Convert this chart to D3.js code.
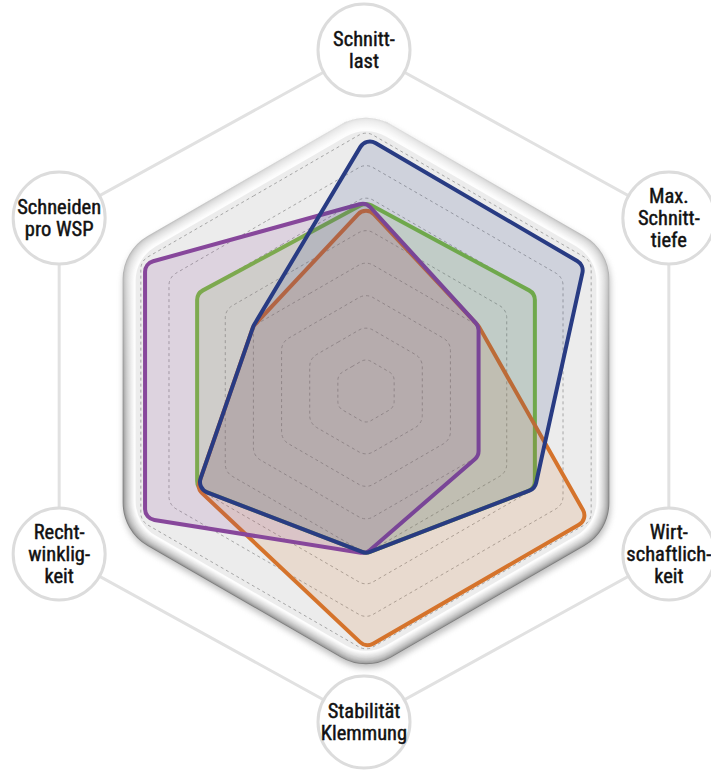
<!DOCTYPE html>
<html>
<head>
<meta charset="utf-8">
<script src="https://cdn.jsdelivr.net/npm/d3@7/dist/d3.min.js"></script>
<style>
  html, body { margin: 0; padding: 0; background: #ffffff; }
  svg { display: block; }
  .lbl { font-family: "Liberation Sans Narrow", "Roboto Condensed", "Arial Narrow", "Liberation Sans", sans-serif; font-weight: normal; font-size: 20.5px; fill: #111; stroke: #111; stroke-width: 0.45px; }
</style>
</head>
<body>
<svg id="chart" width="711" height="776"></svg>
<script>
// ---- data ----
const axisLabels = [
  ["Schnitt-", "last"],
  ["Max.", "Schnitt-", "tiefe"],
  ["Wirt-", "schaftlich-", "keit"],
  ["Stabilität", "Klemmung"],
  ["Recht-", "winklig-", "keit"],
  ["Schneiden", "pro WSP"]
];
const ringLevels = [1, 2, 3, 4, 5, 6, 7, 8];
const seriesNames = ["Grün", "Orange", "Violett", "Blau"];
const greenValues  = [5.8, 6, 6, 5, 6, 6];
const orangeValues = [5.7, 4, 7.9, 7.9, 6, 4];
const purpleValues = [5.8, 4, 4, 5, 7.85, 7.85];
const blueValues   = [7.8, 7.75, 6, 5, 6, 4];
const seriesValues = [greenValues, orangeValues, purpleValues, blueValues];
const seriesColors = ["#7bbb43", "#d5732b", "#87479b", "#283b83"];

// ---- layout ----
const W = 711, H = 776;
const cx = 366, cy = 391;
const svg = d3.select("#chart");
const defs = svg.append("defs");

const r = d3.scaleLinear().domain([0, 8]).range([0, 260]);
const angle = d3.scaleLinear().domain([0, axisLabels.length]).range([-Math.PI / 2, 1.5 * Math.PI]);

function pt(i, radius) {
  const a = angle(i);
  return [cx + radius * Math.cos(a), cy + radius * Math.sin(a)];
}

function roundedPath(pts, rad) {
  const p = d3.path();
  const n = pts.length;
  const mid = (a, b) => [(a[0] + b[0]) / 2, (a[1] + b[1]) / 2];
  const s = mid(pts[n - 1], pts[0]);
  p.moveTo(s[0], s[1]);
  for (let i = 0; i < n; i++) {
    const prev = pts[(i - 1 + n) % n], v = pts[i], nx = pts[(i + 1) % n];
    const m = mid(v, nx);
    const v1 = [prev[0] - v[0], prev[1] - v[1]], v2 = [nx[0] - v[0], nx[1] - v[1]];
    const l1 = Math.hypot(v1[0], v1[1]), l2 = Math.hypot(v2[0], v2[1]);
    let th = Math.acos(Math.max(-1, Math.min(1, (v1[0] * v2[0] + v1[1] * v2[1]) / (l1 * l2))));
    let rr = rad;
    const maxT = Math.min(l1, l2) / 2;
    if (th > 0.01 && th < Math.PI - 0.01) {
      const t = rr / Math.tan(th / 2);
      if (t > maxT) rr = maxT * Math.tan(th / 2);
      p.arcTo(v[0], v[1], m[0], m[1], rr);
    } else {
      p.lineTo(v[0], v[1]);
      p.lineTo(m[0], m[1]);
    }
  }
  p.closePath();
  return p.toString();
}

function hexPts(radius, ox = 0, oy = 0) {
  return d3.range(axisLabels.length).map(i => {
    const q = pt(i, radius);
    return [q[0] + ox, q[1] + oy];
  });
}

// ---- label connector hexagon ----
const lcx = 364, lcy = 386, lRx = 352, lRy = 336;
const labelPos = axisLabels.map((d, i) => {
  const a = angle(i);
  return [lcx + lRx * Math.cos(a), lcy + lRy * Math.sin(a)];
});
svg.append("path")
  .attr("d", d3.line().curve(d3.curveLinearClosed)(labelPos))
  .attr("fill", "none")
  .attr("stroke", "#e1e1e1")
  .attr("stroke-width", 3);

// ---- frame ----
const blur = defs.append("filter").attr("id", "blur").attr("x", "-10%").attr("y", "-10%").attr("width", "120%").attr("height", "120%");
blur.append("feGaussianBlur").attr("stdDeviation", 3);

const frameR = 281, frameCorner = 50;
svg.append("path")
  .attr("d", roundedPath(hexPts(frameR, 1, 4), frameCorner))
  .attr("fill", "#8a8a8a")
  .attr("opacity", 0.55)
  .attr("filter", "url(#blur)");

const bevelSteps = 13;
const bevelColor = d3.interpolateRgb("#7f7f7f", "#fdfdfd");
d3.range(bevelSteps + 1).forEach(k => {
  svg.append("path")
    .attr("d", roundedPath(hexPts(frameR - k), frameCorner - k * 0.6))
    .attr("fill", bevelColor(Math.pow(k / bevelSteps, 0.55)));
});
// light from top
const lg = defs.append("linearGradient").attr("id", "topLight").attr("x1", 0).attr("y1", 0).attr("x2", 0).attr("y2", 1);
lg.append("stop").attr("offset", "0%").attr("stop-color", "#ffffff").attr("stop-opacity", 0.75);
lg.append("stop").attr("offset", "45%").attr("stop-color", "#ffffff").attr("stop-opacity", 0.2);
lg.append("stop").attr("offset", "70%").attr("stop-color", "#ffffff").attr("stop-opacity", 0);
svg.append("path")
  .attr("d", roundedPath(hexPts(frameR + 0.5), frameCorner) + roundedPath(hexPts(frameR - bevelSteps), frameCorner - bevelSteps * 0.6))
  .attr("fill-rule", "evenodd")
  .attr("fill", "url(#topLight)");

svg.append("path")
  .attr("d", roundedPath(hexPts(frameR - bevelSteps - 2), frameCorner - 10))
  .attr("fill", "#ececec");

// ---- rings ----
svg.append("g").selectAll("path")
  .data(ringLevels)
  .join("path")
  .attr("d", d => roundedPath(hexPts(r(d)), Math.min(14, r(d) * 0.3)))
  .attr("fill", "none")
  .attr("stroke", "#a6a6a6")
  .attr("stroke-width", 1)
  .attr("stroke-dasharray", "3,3");

// ---- series ----
const gS = svg.append("g");
seriesValues.forEach((vals, si) => {
  const pts = vals.map((v, i) => pt(i, r(v)));
  gS.append("path")
    .attr("class", "series")
    .attr("data-name", seriesNames[si])
    .attr("d", roundedPath(pts, 11))
    .attr("fill", seriesColors[si])
    .attr("fill-opacity", 0.145)
    .attr("stroke", seriesColors[si])
    .attr("stroke-width", 4)
    .attr("stroke-linejoin", "round");
});

// ---- label circles ----
const gL = svg.append("g");
axisLabels.forEach((lines, i) => {
  const [x, y] = labelPos[i];
  gL.append("circle")
    .attr("cx", x).attr("cy", y).attr("r", 46)
    .attr("fill", "#ffffff")
    .attr("stroke", "#dcdcdc")
    .attr("stroke-width", 3);
  const lh = 22;
  const t = gL.append("text")
    .attr("class", "lbl")
    .attr("text-anchor", "middle")
    .attr("x", x)
    .attr("y", y - (lines.length - 1) * lh / 2)
    .attr("dy", "0.35em");
  lines.forEach((ln, j) => {
    t.append("tspan").attr("x", x).attr("dy", j === 0 ? "0.35em" : lh).text(ln);
  });
});
</script>
</body>
</html>
